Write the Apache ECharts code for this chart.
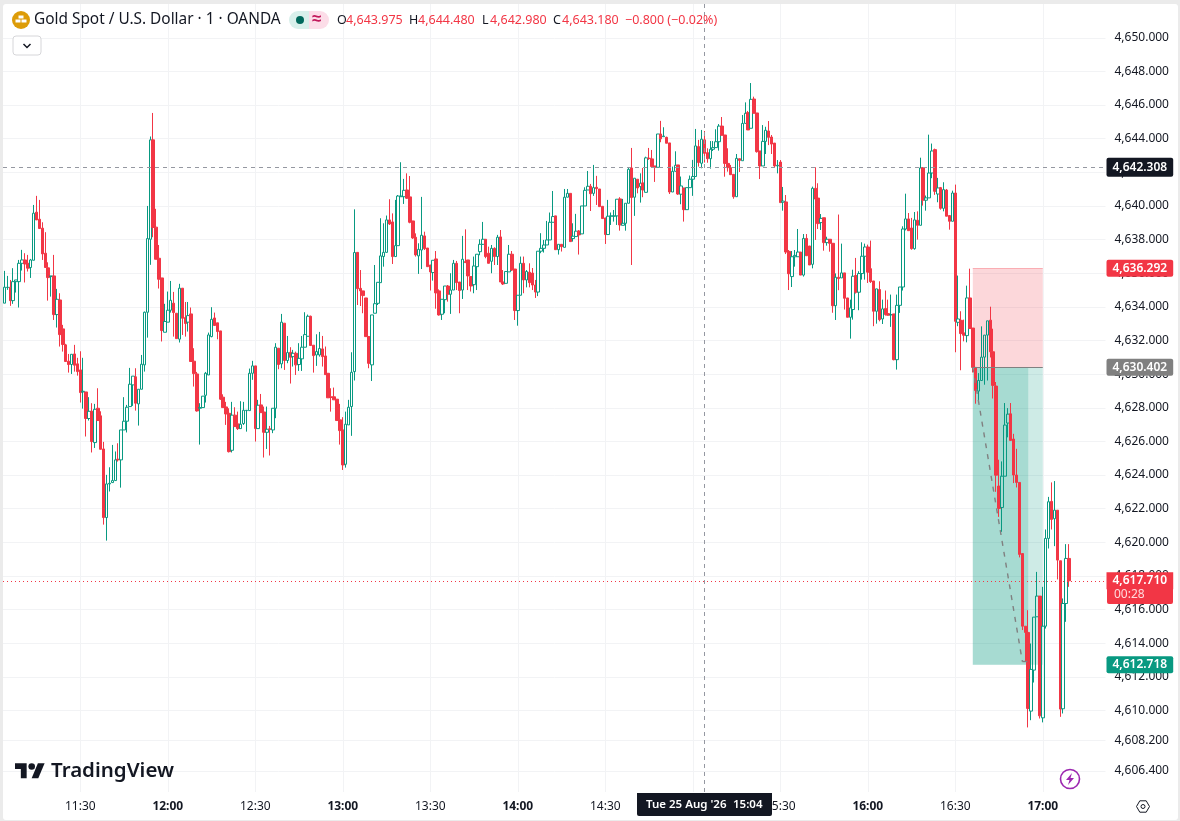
<!DOCTYPE html>
<html><head><meta charset="utf-8">
<script src="https://cdn.jsdelivr.net/npm/echarts@6/dist/echarts.min.js"></script>
<style>html,body{margin:0;padding:0;background:#ebebeb;overflow:hidden}
#panel{position:absolute;left:3px;top:4px;width:1175px;height:816px;background:#fff;border-radius:3px}
#main{position:absolute;left:0;top:0;width:1180px;height:821px}</style></head>
<body><div id="panel"></div><div id="main"></div>
<script>
const opens=[4634.22,4635.15,4635.17,4634.37,4635.50,4635.50,4636.59,4636.79,4636.59,4636.34,
4636.77,4639.63,4639.21,4638.68,4637.19,4636.32,4635.80,4635.84,4633.54,4634.41,
4632.69,4631.74,4630.77,4630.57,4631.20,4630.61,4630.25,4628.94,4628.94,4627.36,
4627.79,4625.93,4627.97,4627.52,4625.55,4621.47,4623.47,4623.55,4623.67,4624.94,
4624.90,4626.68,4627.20,4628.07,4629.36,4629.84,4628.23,4629.10,4630.55,4633.68,
4638.02,4643.93,4638.74,4636.89,4635.72,4632.49,4633.09,4633.80,4634.22,4633.62,
4632.08,4635.11,4633.36,4633.09,4633.58,4630.77,4630.01,4627.97,4628.01,4628.74,
4629.95,4632.23,4633.34,4633.05,4632.57,4628.63,4628.05,4627.67,4625.47,4627.56,
4627.04,4626.76,4627.06,4627.83,4627.83,4630.05,4630.49,4626.76,4628.17,4627.75,
4626.54,4626.74,4626.68,4627.97,4631.54,4630.61,4633.03,4630.81,4631.30,4631.04,
4631.24,4630.57,4630.91,4631.60,4632.25,4633.44,4631.72,4631.14,4631.14,4631.50,
4631.08,4630.05,4628.65,4628.65,4628.51,4627.28,4626.68,4624.64,4626.98,4628.07,
4630.15,4637.24,4635.10,4634.95,4634.53,4632.23,4630.55,4633.62,4634.21,4635.44,
4636.99,4637.24,4639.17,4639.05,4636.99,4637.64,4640.55,4640.55,4640.95,4640.54,
4639.11,4638.14,4637.03,4637.38,4638.22,4637.50,4636.49,4636.04,4636.85,4634.95,
4633.56,4634.43,4635.24,4634.75,4635.00,4636.59,4635.48,4635.00,4636.69,4636.79,
4635.80,4635.32,4636.39,4637.28,4637.72,4638.02,4637.19,4636.71,4637.48,4636.99,
4638.16,4635.48,4635.40,4636.08,4637.13,4636.25,4633.78,4634.69,4636.59,4635.60,
4636.06,4636.01,4635.30,4634.88,4637.31,4637.48,4637.68,4637.98,4639.03,4639.41,
4637.40,4637.72,4637.54,4640.52,4640.75,4638.06,4638.18,4638.51,4638.34,4640.00,
4640.95,4641.17,4640.75,4641.11,4641.01,4639.98,4639.29,4638.30,4639.39,4639.39,
4639.41,4640.42,4638.85,4638.97,4640.16,4642.26,4640.52,4641.59,4641.15,4641.37,
4640.81,4642.84,4642.80,4642.38,4642.30,4644.28,4644.12,4644.08,4643.75,4640.83,
4642.06,4642.44,4640.70,4641.07,4639.78,4641.09,4641.59,4641.75,4643.53,4642.54,
4643.93,4643.17,4642.81,4643.37,4643.47,4643.82,4644.75,4644.22,4642.53,4642.28,
4641.88,4640.55,4642.81,4642.69,4644.91,4645.55,4644.62,4646.36,4645.53,4643.27,
4642.38,4643.84,4644.46,4644.10,4643.74,4642.38,4642.61,4640.22,4640.24,4637.30,
4635.80,4636.98,4636.98,4637.26,4635.89,4638.07,4637.62,4636.53,4641.05,4640.47,
4639.01,4639.30,4637.82,4638.02,4637.78,4634.07,4635.76,4635.72,4636.02,4634.53,
4633.38,4633.84,4635.86,4634.87,4635.98,4637.01,4637.56,4636.27,4635.54,4633.74,
4635.03,4633.28,4633.90,4633.60,4633.52,4633.58,4630.86,4634.09,4635.18,4638.63,
4639.23,4638.69,4637.46,4639.15,4638.85,4642.28,4640.34,4640.48,4641.96,4643.35,
4640.71,4641.09,4639.86,4640.95,4639.43,4639.09,4640.77,4633.08,4633.20,4632.45,
4632.29,4634.53,4632.74,4630.40,4628.99,4629.62,4631.01,4632.32,4633.21,4631.33,
4629.29,4623.34,4622.07,4623.93,4627.09,4627.64,4626.14,4624.00,4623.56,4619.33,
4615.01,4614.64,4609.96,4612.40,4615.57,4616.80,4609.56,4615.01,4620.23,4622.43,
4621.40,4621.91,4618.90,4610.10,4616.36,4619.04];
const closes=[4635.17,4635.17,4634.37,4635.50,4635.60,4636.59,4636.79,4636.55,4636.30,4636.79,
4639.57,4639.17,4638.66,4637.15,4636.34,4635.74,4635.84,4633.54,4634.45,4632.35,
4631.76,4630.75,4630.57,4631.18,4630.53,4630.15,4628.90,4628.98,4627.36,4627.79,
4625.99,4627.91,4627.24,4625.53,4621.47,4623.47,4623.51,4623.67,4624.90,4624.90,
4626.68,4627.20,4628.03,4629.40,4629.88,4628.27,4629.10,4630.59,4633.68,4638.06,
4643.93,4638.72,4636.83,4635.64,4632.59,4633.13,4633.80,4634.39,4633.66,4632.11,
4635.11,4633.32,4633.01,4633.48,4630.75,4630.03,4627.81,4628.01,4628.69,4630.05,
4632.33,4633.26,4632.89,4632.53,4628.51,4628.01,4627.63,4625.39,4627.56,4626.88,
4626.76,4627.02,4627.85,4627.85,4630.05,4630.49,4626.76,4628.15,4627.71,4626.54,
4626.72,4626.72,4627.97,4631.60,4630.57,4633.09,4630.81,4631.28,4631.00,4631.24,
4630.55,4630.94,4631.60,4632.35,4633.44,4631.70,4631.10,4631.34,4631.52,4631.04,
4629.97,4628.59,4628.61,4628.47,4627.24,4626.64,4624.60,4627.02,4628.03,4630.11,
4637.23,4635.08,4634.95,4634.67,4632.23,4630.64,4633.52,4634.19,4635.46,4637.03,
4637.24,4639.17,4638.93,4636.99,4637.64,4640.59,4640.59,4640.93,4640.46,4639.03,
4638.10,4637.09,4637.42,4638.26,4637.46,4636.39,4636.08,4636.77,4634.83,4633.52,
4634.45,4635.24,4634.75,4635.00,4636.59,4635.44,4634.97,4636.83,4636.63,4635.84,
4635.24,4636.43,4637.13,4637.72,4638.02,4636.99,4636.59,4637.48,4636.99,4638.14,
4635.48,4635.36,4636.10,4637.13,4636.19,4633.78,4634.69,4636.59,4635.60,4636.10,
4635.44,4635.30,4634.88,4637.31,4637.48,4637.68,4637.98,4639.03,4639.37,4637.40,
4637.72,4637.58,4640.52,4640.75,4637.88,4638.20,4638.50,4638.28,4640.00,4640.93,
4641.17,4640.73,4641.09,4641.03,4639.96,4639.25,4638.30,4639.39,4639.41,4639.41,
4640.40,4638.87,4638.97,4640.16,4642.18,4640.50,4641.65,4641.07,4641.35,4640.95,
4642.86,4642.82,4642.34,4642.30,4644.28,4643.99,4644.16,4643.73,4640.83,4642.06,
4642.42,4640.71,4641.19,4639.78,4641.09,4641.59,4641.75,4643.57,4642.58,4643.97,
4643.13,4642.81,4643.37,4643.47,4643.82,4644.75,4644.20,4642.53,4642.28,4641.86,
4640.55,4642.83,4642.71,4644.91,4645.51,4644.52,4646.34,4645.51,4643.23,4642.38,
4643.84,4644.50,4644.08,4643.68,4642.38,4642.42,4640.20,4640.29,4637.26,4635.97,
4636.98,4637.06,4637.26,4635.89,4638.07,4637.04,4636.49,4641.05,4640.41,4638.95,
4639.26,4637.82,4638.02,4637.78,4634.07,4635.76,4635.68,4636.02,4634.51,4633.38,
4633.94,4635.82,4634.87,4635.98,4637.01,4637.56,4636.06,4635.50,4633.74,4635.07,
4633.24,4633.88,4633.54,4633.50,4633.54,4630.86,4634.09,4635.18,4638.63,4639.23,
4638.53,4637.46,4639.17,4638.85,4642.26,4640.34,4640.48,4641.96,4643.27,4640.87,
4641.07,4639.86,4640.97,4639.39,4639.09,4640.77,4633.14,4633.28,4632.41,4632.31,
4634.53,4632.71,4630.40,4629.03,4629.62,4631.01,4632.32,4633.17,4631.33,4629.33,
4623.99,4622.01,4623.93,4626.97,4627.62,4626.06,4624.00,4623.56,4619.28,4615.01,
4614.64,4610.12,4612.44,4615.55,4616.80,4609.68,4615.01,4620.23,4622.41,4621.36,
4621.91,4618.94,4610.08,4616.36,4619.04,4617.71];
const lows=[4634.22,4635.01,4634.06,4634.18,4634.85,4633.96,4636.16,4635.45,4636.10,4635.72,
4636.77,4639.17,4638.66,4636.79,4636.34,4634.37,4634.61,4633.22,4632.77,4631.64,
4631.34,4630.75,4630.09,4630.01,4630.15,4629.91,4628.31,4627.95,4626.29,4627.24,
4625.34,4625.61,4627.24,4625.53,4621.05,4620.10,4623.02,4623.55,4623.67,4624.80,
4623.25,4626.68,4626.53,4628.07,4628.11,4627.83,4626.94,4629.10,4630.15,4632.17,
4636.50,4638.14,4636.83,4635.09,4631.94,4632.49,4633.09,4633.66,4632.23,4632.11,
4631.88,4632.33,4632.23,4632.53,4630.75,4629.26,4627.77,4625.81,4628.01,4628.31,
4629.95,4632.19,4632.89,4632.07,4628.47,4628.01,4626.98,4625.34,4625.34,4626.88,
4626.68,4626.76,4626.98,4626.58,4627.83,4629.66,4625.99,4626.76,4627.71,4625.04,
4625.55,4625.16,4626.49,4627.38,4630.29,4630.35,4630.25,4630.65,4629.44,4630.45,
4629.95,4630.19,4630.19,4631.60,4632.25,4631.70,4630.09,4630.49,4631.04,4630.45,
4629.97,4628.59,4627.77,4628.47,4627.24,4625.81,4624.30,4624.44,4626.98,4626.33,
4629.62,4634.11,4634.05,4633.62,4632.23,4630.35,4629.59,4633.62,4634.11,4635.44,
4636.39,4637.24,4638.87,4636.55,4636.99,4637.64,4640.55,4640.12,4640.42,4638.97,
4638.04,4636.99,4635.96,4636.25,4637.38,4636.39,4634.97,4635.56,4633.89,4633.48,
4633.22,4633.62,4634.31,4633.58,4635.00,4635.00,4633.62,4634.47,4636.63,4635.00,
4634.91,4634.81,4635.00,4637.07,4637.68,4636.89,4636.59,4636.00,4636.49,4636.49,
4635.48,4635.30,4635.40,4636.08,4636.13,4633.22,4632.88,4634.69,4634.81,4635.16,
4635.16,4635.00,4634.53,4634.64,4637.19,4637.23,4637.68,4637.98,4639.03,4637.40,
4637.11,4637.29,4637.54,4640.52,4637.88,4637.88,4638.18,4637.11,4638.34,4640.00,
4640.95,4639.70,4640.60,4640.06,4639.96,4639.25,4637.74,4638.30,4638.87,4639.07,
4638.87,4638.53,4638.85,4638.53,4640.16,4636.49,4639.41,4640.75,4640.20,4640.52,
4640.81,4642.74,4642.34,4641.43,4642.30,4643.79,4644.12,4643.73,4640.71,4640.83,
4642.06,4640.66,4640.10,4639.07,4639.78,4641.09,4640.60,4641.75,4642.34,4642.24,
4642.58,4642.57,4642.22,4643.27,4643.47,4643.29,4644.20,4641.74,4642.04,4641.86,
4640.43,4640.55,4642.02,4642.69,4644.91,4644.52,4644.62,4645.51,4643.17,4641.60,
4642.38,4643.09,4643.62,4643.09,4642.30,4641.94,4640.20,4639.72,4637.14,4635.00,
4635.18,4636.39,4636.98,4635.89,4635.80,4637.04,4636.49,4636.29,4637.98,4638.63,
4638.57,4637.34,4637.64,4637.28,4633.65,4633.22,4634.99,4635.72,4633.84,4633.38,
4632.11,4633.24,4634.79,4633.80,4635.62,4635.62,4635.42,4635.42,4632.85,4633.00,
4633.14,4632.98,4633.48,4633.48,4632.81,4630.82,4630.27,4633.64,4634.97,4638.55,
4638.53,4637.40,4637.40,4638.00,4638.85,4640.02,4639.72,4640.48,4641.65,4640.66,
4640.22,4639.78,4639.68,4639.39,4638.59,4639.09,4631.30,4632.85,4630.23,4631.95,
4631.89,4632.71,4630.10,4628.24,4628.28,4629.62,4629.37,4629.62,4630.99,4628.55,
4623.00,4621.51,4620.62,4623.93,4626.24,4626.06,4623.52,4623.26,4619.10,4614.78,
4612.89,4608.99,4609.42,4611.66,4615.57,4609.52,4609.29,4614.87,4619.63,4620.76,
4619.77,4617.79,4609.62,4609.82,4615.27,4617.35];
const highs=[4636.14,4635.84,4635.60,4636.30,4635.60,4636.79,4637.39,4637.19,4637.09,4636.85,
4640.06,4640.60,4640.36,4639.03,4638.44,4636.65,4635.84,4637.09,4635.07,4634.81,
4632.93,4631.80,4631.20,4631.18,4631.74,4630.97,4631.36,4630.97,4628.94,4628.63,
4628.27,4628.23,4629.16,4627.79,4625.97,4624.01,4624.46,4625.79,4625.40,4625.89,
4626.68,4628.63,4628.17,4630.37,4629.88,4630.35,4629.10,4631.14,4633.72,4640.00,
4644.13,4645.53,4639.83,4637.68,4635.72,4634.18,4634.91,4635.54,4634.89,4633.62,
4635.37,4635.11,4634.29,4634.29,4633.96,4631.54,4630.13,4628.27,4628.69,4630.13,
4632.47,4633.98,4633.66,4633.05,4632.57,4628.80,4628.35,4627.97,4628.35,4628.03,
4627.77,4628.39,4628.35,4627.85,4630.33,4630.79,4630.49,4628.47,4628.82,4628.07,
4628.07,4626.92,4627.97,4631.84,4631.54,4633.58,4633.03,4632.27,4631.60,4631.44,
4631.34,4631.84,4632.27,4633.68,4633.54,4633.48,4631.72,4632.37,4632.51,4632.27,
4631.64,4630.05,4629.16,4629.20,4628.51,4628.23,4627.44,4627.77,4628.47,4631.30,
4639.80,4637.24,4636.19,4634.95,4634.53,4632.27,4633.52,4636.49,4635.46,4639.27,
4638.97,4639.43,4640.40,4639.56,4640.36,4640.65,4642.60,4641.61,4641.94,4641.78,
4639.11,4638.37,4637.78,4640.54,4638.47,4637.50,4636.49,4636.77,4637.32,4635.04,
4634.45,4635.24,4635.30,4636.00,4636.79,4636.73,4635.48,4638.22,4638.61,4636.79,
4635.80,4636.99,4637.13,4638.02,4639.05,4638.02,4637.58,4637.68,4637.54,4638.28,
4638.57,4636.19,4636.10,4637.68,4637.32,4636.25,4634.69,4636.99,4636.99,4636.19,
4636.59,4636.31,4635.60,4637.31,4638.38,4637.98,4639.11,4639.61,4640.89,4639.41,
4637.72,4637.72,4641.01,4641.01,4640.75,4638.97,4639.53,4638.57,4640.00,4641.11,
4642.08,4641.31,4642.44,4641.79,4641.01,4639.98,4639.29,4640.36,4639.61,4639.76,
4640.40,4640.52,4640.42,4640.16,4642.30,4643.45,4641.65,4641.59,4641.94,4642.26,
4642.93,4643.45,4643.33,4642.38,4644.28,4645.06,4644.68,4644.12,4643.75,4642.34,
4643.25,4642.44,4641.75,4641.07,4641.09,4641.81,4642.74,4644.58,4643.93,4644.52,
4644.46,4643.43,4643.86,4643.86,4644.56,4644.87,4645.29,4644.22,4643.43,4642.44,
4641.88,4643.09,4642.81,4645.41,4646.16,4645.65,4647.31,4646.50,4645.53,4643.27,
4644.81,4644.71,4645.05,4644.22,4643.74,4642.73,4642.73,4641.13,4640.65,4637.38,
4637.32,4637.38,4638.63,4637.26,4638.33,4638.33,4637.62,4641.15,4642.30,4641.35,
4639.52,4639.30,4638.17,4638.02,4637.78,4635.99,4639.49,4637.76,4636.02,4634.53,
4634.43,4636.21,4636.91,4636.12,4637.84,4637.76,4637.70,4637.94,4635.54,4635.07,
4635.52,4634.43,4634.97,4634.43,4634.73,4633.58,4634.73,4635.18,4638.79,4640.73,
4639.58,4639.29,4639.64,4639.68,4642.87,4642.28,4640.62,4644.24,4643.71,4643.41,
4641.67,4641.13,4641.41,4641.01,4639.43,4640.91,4641.27,4635.86,4633.74,4633.24,
4635.26,4636.27,4632.74,4630.40,4630.06,4632.84,4632.32,4633.17,4634.01,4632.70,
4629.53,4624.91,4624.81,4628.28,4627.98,4628.28,4626.45,4625.56,4623.56,4619.33,
4615.01,4615.96,4613.98,4615.55,4618.24,4616.80,4617.35,4620.76,4622.70,4623.56,
4623.64,4621.91,4618.90,4616.66,4619.89,4619.89];

const priceTicks=[4606.4,4608.2,4610,4612,4614,4616,4618,4620,4622,4624,4626,4628,4630,4632,4634,4636,4638,4640,4642,4644,4646,4648,4650];
const priceMin=4605.15, priceMax=4652.01;
const crosshairPrice=4642.308, crosshairTime='15:04';
const lastPrice=4617.71;
const stopPrice=4636.292, entryPrice=4630.402, targetPrice=4612.718;
const tradeStart='16:36', tradeReached='16:53', tradeEnd='16:55', boxEnd='17:00', tradeReachedPrice=4612.9;
const ohlc=[['O','4,643.975',337,346],['H','4,644.480',409,418],['L','4,642.980',482,490],['C','4,643.180',553,562]];

const categories=[];
for(let m=11*60+4;m<11*60+4+378;m++){
  categories.push(String(Math.floor(m/60)).padStart(2,'0')+':'+String(m%60).padStart(2,'0'));
}
const candleData=opens.map((o,i)=>[o,closes[i],lows[i],highs[i]]);
const isMajor=(i)=>categories[i].endsWith(':00')||categories[i].endsWith(':30');
const FONT='"Noto Sans",sans-serif';
const UP='#089981',DOWN='#f23645',INK='#131722',GRID='#f2f3f5';
const fmt=v=>v.toLocaleString('en-US',{minimumFractionDigits:3,maximumFractionDigits:3});
const tag=(price,bg,color)=>({yAxis:price,
  lineStyle:{color:'rgba(0,0,0,0)',width:1},
  label:{show:true,position:'end',distance:1,formatter:fmt(price),backgroundColor:bg,color:color||'#fff',fontFamily:FONT,fontSize:12,fontWeight:600,padding:[2.5,6,2.5,6],borderRadius:2}});
const chart=echarts.init(document.getElementById('main'),null,{renderer:'canvas'});
const textG=(x,y,t,o)=>({type:'text',x,y,z:100,style:Object.assign({text:t,fontFamily:FONT,fontSize:13,fill:INK,verticalAlign:'middle',align:'left'},o||{})});
chart.setOption({
  animation:false,
  grid:{left:3,top:4,width:1102.5,height:788,containLabel:false},
  xAxis:{type:'category',data:categories,boundaryGap:true,
    axisLine:{show:false},axisTick:{show:false,alignWithLabel:true},
    splitLine:{show:true,alignWithLabel:true,interval:i=>isMajor(i),lineStyle:{color:GRID,width:1}},
    axisLabel:{interval:i=>isMajor(i),margin:9,fontFamily:FONT,fontSize:12,color:INK,hideOverlap:false,
      formatter:v=>v.endsWith(':00')?'{b|'+v+'}':v,
      rich:{b:{fontFamily:FONT,fontSize:12,fontWeight:700,color:INK}}}},
  yAxis:{type:'value',position:'right',min:priceMin,max:priceMax,scale:true,
    axisLine:{show:false},axisTick:{show:false,customValues:priceTicks},
    splitLine:{show:true,lineStyle:{color:GRID,width:1}},
    axisLabel:{customValues:priceTicks,margin:9,fontFamily:FONT,fontSize:12,color:INK,formatter:fmt}},
  series:[
   {type:'line',name:'trade',data:[],z:1,silent:true,
    markArea:{silent:true,data:[
      [{xAxis:tradeStart,yAxis:stopPrice,itemStyle:{color:'rgba(242,54,69,0.2)'}},{xAxis:boxEnd,yAxis:entryPrice}],
      [{xAxis:tradeStart,yAxis:entryPrice,itemStyle:{color:'rgba(8,153,129,0.2)'}},{xAxis:boxEnd,yAxis:targetPrice}],
      [{xAxis:tradeStart,yAxis:entryPrice,itemStyle:{color:'rgba(8,153,129,0.2)'}},{xAxis:tradeEnd,yAxis:targetPrice}]
    ]},
    markLine:{silent:true,symbol:'none',label:{show:false},data:[
      [{xAxis:tradeStart,yAxis:entryPrice,lineStyle:{color:'#808080',width:1,type:'solid'}},{xAxis:boxEnd,yAxis:entryPrice}],
      [{xAxis:tradeStart,yAxis:stopPrice,lineStyle:{color:'rgba(242,54,69,0.3)',width:1,type:'solid'}},{xAxis:boxEnd,yAxis:stopPrice}],
      [{xAxis:tradeStart,yAxis:entryPrice,lineStyle:{color:'#808080',width:1.4,type:[5,6]}},{xAxis:tradeReached,yAxis:tradeReachedPrice}],
      [{xAxis:tradeReached,yAxis:tradeReachedPrice,lineStyle:{color:'#808080',width:1.4,type:[5,6]}},{xAxis:tradeEnd,yAxis:tradeReachedPrice}]
    ]}},
   {type:'candlestick',name:'XAUUSD',data:candleData,z:3,clip:false,barWidth:3,silent:true,
    itemStyle:{color:'transparent',color0:DOWN,borderColor:UP,borderColor0:DOWN,borderWidth:1,borderColorDoji:UP}},
   {type:'line',name:'overlays',data:[],z:6,silent:true,
    markLine:{silent:true,symbol:'none',precision:3,data:[
      {xAxis:crosshairTime,lineStyle:{color:'#9598a1',width:1,type:[4,4]},label:{show:false}},
      {yAxis:crosshairPrice,lineStyle:{color:'#9598a1',width:1,type:[4,4]},label:{show:true,position:'end',distance:1,formatter:fmt(crosshairPrice),backgroundColor:INK,color:'#fff',fontFamily:FONT,fontSize:12,fontWeight:600,padding:[3.5,6,3.5,6],borderRadius:2}},
      {yAxis:lastPrice,lineStyle:{color:DOWN,width:1,type:[1,3]},label:{show:true,position:'end',distance:1,formatter:fmt(lastPrice),backgroundColor:DOWN,color:'#fff',fontFamily:FONT,fontSize:12,fontWeight:600,padding:[2.5,6,2.5,6]}},
      tag(stopPrice,DOWN),tag(entryPrice,'#808080'),tag(targetPrice,UP)
    ]}}
  ],
  graphic:[
    {type:'circle',z:100,shape:{cx:21,cy:20,r:9},style:{fill:'#dd9c08'}},
    {type:'rect',z:101,shape:{x:18.5,y:15.5,width:5,height:3},style:{fill:'#fff'}},
    {type:'rect',z:101,shape:{x:15.5,y:19.5,width:5,height:3},style:{fill:'#fff'}},
    {type:'rect',z:101,shape:{x:21.5,y:19.5,width:5,height:3},style:{fill:'#fff'}},
    textG(34,20,'Gold Spot / U.S. Dollar · 1 · OANDA',{fontSize:15.4}),
    {type:'rect',z:100,shape:{x:289,y:11,width:22,height:18,r:[9,0,0,9]},style:{fill:'#d8f0eb'}},
    {type:'rect',z:100,shape:{x:309,y:11,width:20,height:18,r:[0,9,9,0]},style:{fill:'#fcdde8'}},
    {type:'circle',z:101,shape:{cx:300,cy:20,r:4},style:{fill:'#00695c'}},
    textG(312,19,'≈',{fontSize:17,fill:'#c2185b',fontWeight:700}),
    ...ohlc.flatMap(r=>[textG(r[2],20,r[0],{fontSize:12.5}),textG(r[3],20,r[1],{fontSize:12.5,fill:DOWN})]),
    textG(625,20,'−0.800 (−0.02%)',{fontSize:12.5,fill:DOWN}),
    {type:'rect',z:100,shape:{x:13,y:36,width:28,height:19,r:3},style:{fill:'#fff',stroke:'#d6d6d9',lineWidth:1}},
    {type:'polyline',z:101,shape:{points:[[23.5,44],[27,47.5],[30.5,44]]},style:{stroke:INK,lineWidth:1.5,fill:null}},
    {type:'polygon',z:100,shape:{points:[[15,763.2],[26.66,763.2],[26.66,778.2],[20.83,778.2],[20.83,769.1],[15,769.1]]},style:{fill:INK}},
    {type:'polygon',z:100,shape:{points:[[38.3,778.2],[31.66,778.2],[37.9,763.2],[44.6,763.2]]},style:{fill:INK}},
    {type:'circle',z:100,shape:{cx:31.7,cy:766.5,r:3.3},style:{fill:INK}},
    textG(51,771,'TradingView',{fontSize:20.5,fontWeight:600}),
    {type:'circle',z:100,shape:{cx:1070,cy:779,r:9.5},style:{fill:'#fff',stroke:'#9c27b0',lineWidth:1.6}},
    {type:'polygon',z:101,shape:{points:[[1072,773],[1066,780],[1069.5,780],[1068,785],[1074,778],[1070.5,778]]},style:{fill:'#9c27b0'}},
    {type:'polygon',z:100,shape:{points:[[1136.5,806.5],[1139.8,800.8],[1146.2,800.8],[1149.5,806.5],[1146.2,812.2],[1139.8,812.2]]},style:{fill:'#fff',stroke:INK,lineWidth:1}},
    {type:'circle',z:101,shape:{cx:1143,cy:806.5,r:2},style:{fill:'#fff',stroke:INK,lineWidth:1}},
    {type:'rect',z:100,shape:{x:637,y:793,width:135,height:23,r:[0,0,2,2]},style:{fill:INK}},
    textG(646,805,"Tue 25 Aug '26",{fontSize:11.5,fill:'#fff',fontWeight:600}),
    textG(733,805,'15:04',{fontSize:11.5,fill:'#fff',fontWeight:600}),
    {type:'rect',z:100,shape:{x:1107,y:589,width:66,height:15,r:[0,0,2,2]},style:{fill:DOWN}},
    textG(1114,595,'00:28',{fontSize:12,fill:'#ffd9dc'})
  ]
});
</script></body></html>
